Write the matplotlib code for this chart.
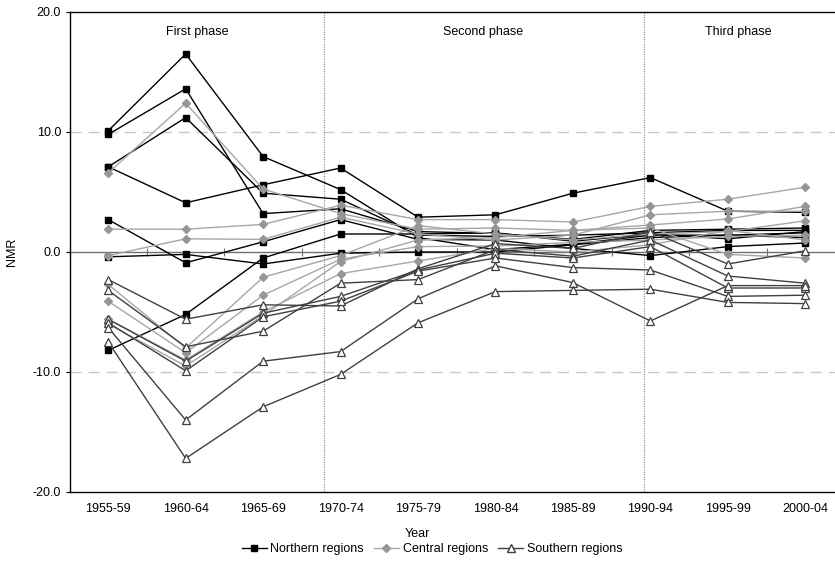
import matplotlib
matplotlib.use("Agg")
import matplotlib.pyplot as plt
from matplotlib.lines import Line2D

plt.rcParams['font.family'] = ['Liberation Sans', 'DejaVu Sans']

years = ["1955-59", "1960-64", "1965-69", "1970-74", "1975-79",
         "1980-84", "1985-89", "1990-94", "1995-99", "2000-04"]

northern = [
    [10.1, 16.5, 7.95, 5.2, 1.2, 0.2, 0.65, 1.4, 1.4, 1.6],
    [9.8, 13.6, 3.2, 3.6, 1.7, 1.55, 1.05, 1.8, 1.9, 2.0],
    [7.1, 11.2, 4.9, 4.4, 1.4, 1.3, 1.4, 1.6, 1.8, 1.8],
    [7.1, 4.1, 5.6, 7.0, 2.9, 3.1, 4.9, 6.2, 3.4, 3.3],
    [2.7, -0.9, 0.85, 2.7, 1.05, 1.0, 0.3, -0.3, 0.45, 0.75],
    [-0.4, -0.2, -1.0, -0.1, 0.0, 0.0, 0.6, 1.2, 1.4, 1.2],
    [-8.2, -5.2, -0.5, 1.5, 1.5, 1.6, 0.9, 1.5, 1.1, 1.7],
]
central = [
    [6.6, 12.4, 5.25, 3.2, 1.9, 2.0, 1.8, 2.25, 2.75, 3.8],
    [1.9, 1.9, 2.3, 3.9, 2.7, 2.7, 2.5, 3.8, 4.4, 5.4],
    [-0.3, 1.1, 1.05, 2.9, 1.5, 1.0, 1.4, 3.1, 3.4, 3.4],
    [-2.7, -8.0, -2.1, -0.3, 2.2, 1.5, 1.0, 1.5, 1.7, 2.6],
    [-4.1, -8.4, -3.6, -0.6, 0.45, 0.5, 0.8, 1.0, 1.3, 1.4],
    [-5.6, -9.0, -5.0, -1.8, -0.75, 0.3, 0.0, 0.6, 1.8, 1.0],
    [-6.0, -9.5, -5.3, -0.8, 1.0, 1.2, 1.8, 2.0, -0.2, -0.5],
]
southern = [
    [-2.3, -5.6, -4.4, -4.5, -1.4, 0.7, 0.3, 1.7, -1.0, 0.1],
    [-3.2, -7.9, -6.6, -2.6, -2.3, 0.2, -0.35, 1.0, -2.0, -2.6],
    [-5.6, -9.1, -5.1, -3.7, -1.5, -0.1, -0.5, 0.45, -3.0, -3.0],
    [-5.9, -9.9, -5.4, -4.1, -1.6, -0.5, -1.3, -1.5, -3.7, -3.6],
    [-6.3, -14.0, -9.1, -8.3, -3.9, -1.15, -2.55, -5.75, -2.8, -2.8],
    [-7.5, -17.2, -12.9, -10.2, -5.9, -3.3, -3.2, -3.1, -4.2, -4.3],
]
phases = ["First phase", "Second phase", "Third phase"]
phase_label_x = [1.15, 4.84, 8.13]
phase_breaks = [2.79, 6.92]
yticks = [-20, -10, 0, 10, 20]

W, H = 835, 562
fig = plt.figure(figsize=(W / 100, H / 100), dpi=100)
ax = fig.add_axes([69.5 / W, (H - 492) / H, (844 - 69.5) / W, 480 / H])

x = list(range(len(years)))

# gridlines at +/-10
for v in [-10, 10]:
    ax.axhline(v, color='#c8c8c8', lw=1.0, ls=(0, (8, 5)), zorder=0)
# zero axis with crossing ticks at category boundaries
ax.axhline(0, color='#707070', lw=1.0, zorder=1)
bounds = [i + 0.5 for i in range(len(years) - 1)]
ax.vlines(bounds, -0.35, 0.35, color='#707070', lw=0.8, zorder=1)
# phase separators
for b in phase_breaks:
    ax.axvline(b, color='#808080', lw=0.8, ls=(0, (1, 1.2)), zorder=1)

for s in northern:
    ax.plot(x, s, color='black', lw=1.0, marker='s', ms=4.8,
            mfc='black', mec='black', zorder=3)
for s in central:
    ax.plot(x, s, color='#a6a6a6', lw=1.0, marker='D', ms=4.0,
            mfc='#969696', mec='#969696', zorder=4)
for s in southern:
    ax.plot(x, s, color='#404040', lw=1.0, marker='^', ms=5.6,
            mfc='white', mec='#404040', mew=0.9, zorder=5)

ax.set_xlim(-0.5, 9.5)
ax.set_ylim(-20, 20)
ax.set_yticks(yticks)
ax.set_yticklabels([f"{v:.1f}" for v in yticks], fontsize=9)
ax.set_xticks(x)
ax.set_xticklabels(years, fontsize=9)
ax.tick_params(axis='x', length=0, pad=8)
ax.tick_params(axis='y', length=3, direction='out', width=0.8, pad=3)
for sp in ['top', 'bottom', 'left']:
    ax.spines[sp].set_color('black')
    ax.spines[sp].set_linewidth(1.0)
ax.spines['right'].set_visible(False)

for lbl, px in zip(phases, phase_label_x):
    ax.text(px, 18.3, lbl, ha='center', va='center', fontsize=9)

fig.text(417.5 / W, 1 - 534 / H, "Year", ha='center', va='center', fontsize=9)
fig.text(12 / W, 1 - 252 / H, "NMR", ha='center', va='center',
         rotation=90, fontsize=9)

handles = [
    Line2D([], [], color='black', lw=1.0, marker='s', ms=5, mfc='black', mec='black'),
    Line2D([], [], color='#a6a6a6', lw=1.0, marker='D', ms=4, mfc='#969696', mec='#969696'),
    Line2D([], [], color='#404040', lw=1.0, marker='^', ms=6, mfc='white', mec='#404040'),
]
fig.legend(handles, ["Northern regions", "Central regions", "Southern regions"],
           loc='center', bbox_to_anchor=(432 / W, 1 - 549 / H), ncol=3,
           frameon=False, fontsize=9, handlelength=2.0, handletextpad=0.3,
           columnspacing=0.8, borderpad=0.1)

fig.savefig("out.png", dpi=100)
